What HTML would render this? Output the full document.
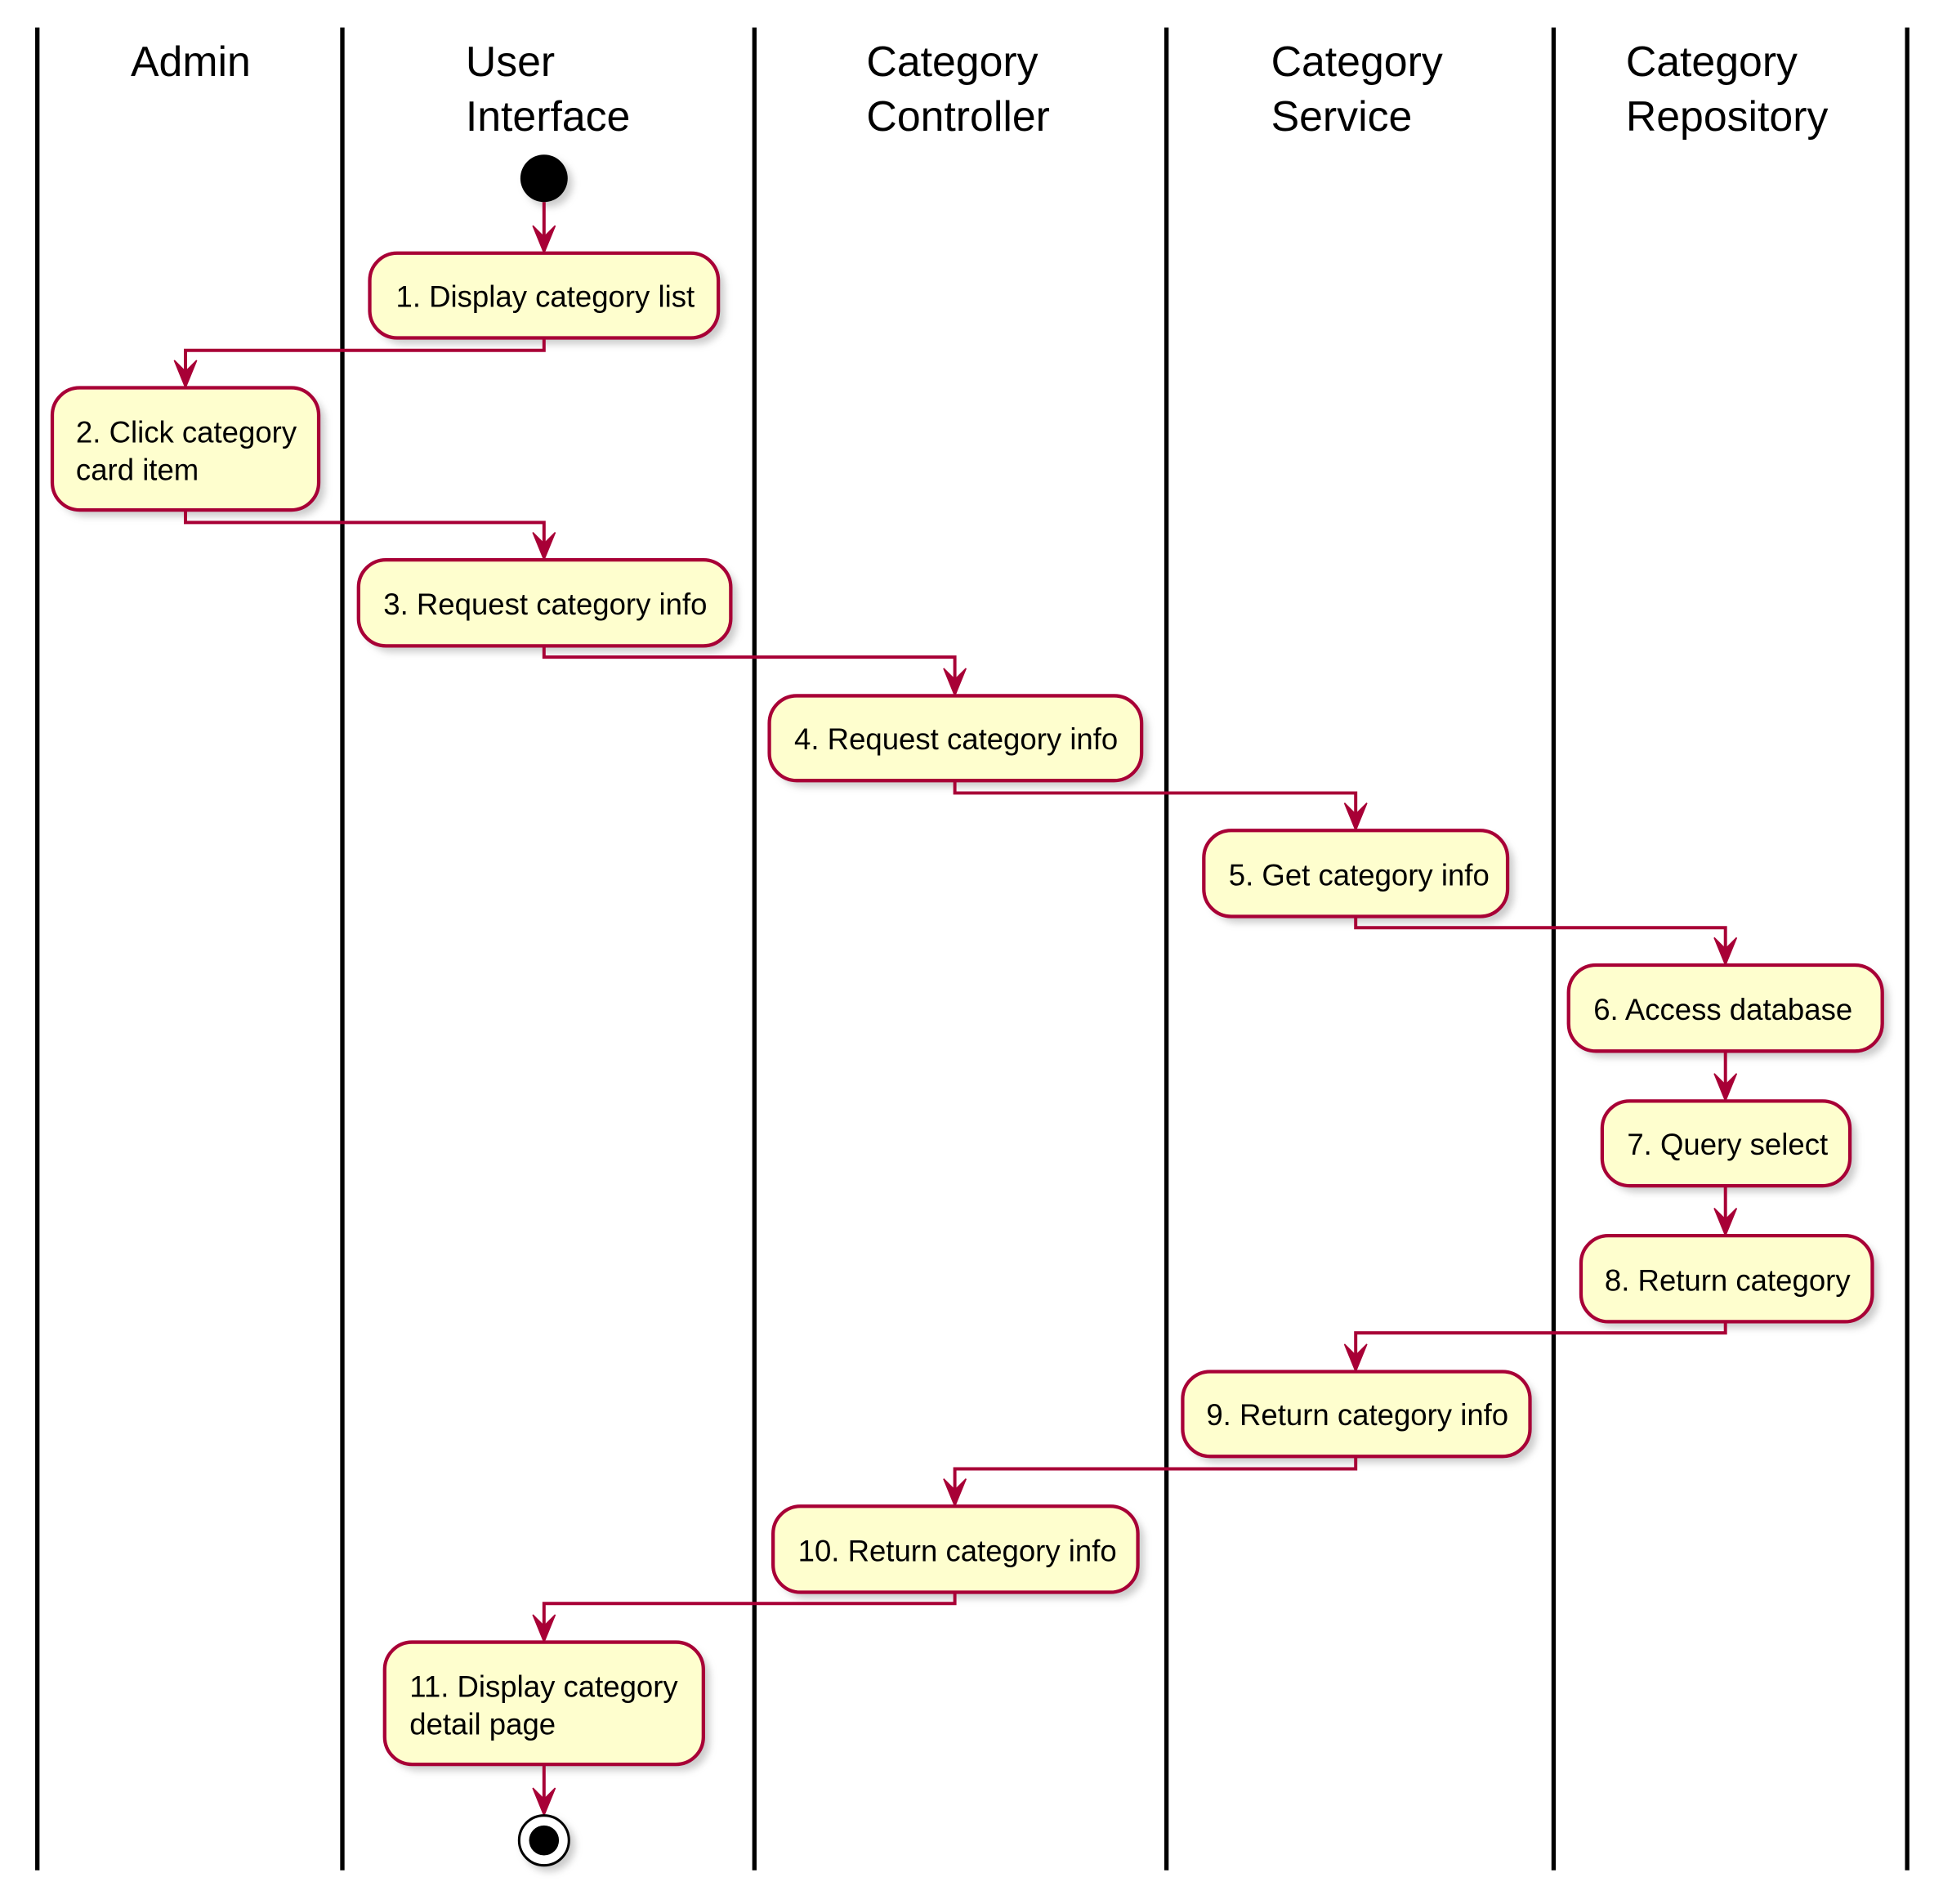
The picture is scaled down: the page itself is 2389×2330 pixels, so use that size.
<!DOCTYPE html>
<html><head><meta charset="utf-8"><style>
html,body{margin:0;padding:0;background:#fff;}
svg{display:block;}
text{font-family:"Liberation Sans",Arial,sans-serif;fill:#000;}
.h{font-size:34px;}
.t{font-size:24px;}
.n{fill:#FEFECE;stroke:#A80036;stroke-width:2.8;}
.s{fill:#999;opacity:.5;}
.c{fill:none;stroke:#A80036;stroke-width:2.6;}
.a{fill:#A80036;stroke:#A80036;stroke-width:1;}
.l{stroke:#000;stroke-width:3.5;}
</style></head><body>
<svg width="2389" height="2330" viewBox="0 0 1568 1527" preserveAspectRatio="none" xmlns="http://www.w3.org/2000/svg">
<defs><filter id="f"><feGaussianBlur stdDeviation="3"/></filter></defs>
<g class="l">
<line x1="30" y1="22" x2="30" y2="1500"/><line x1="275" y1="22" x2="275" y2="1500"/>
<line x1="606" y1="22" x2="606" y2="1500"/><line x1="937" y1="22" x2="937" y2="1500"/>
<line x1="1248" y1="22" x2="1248" y2="1500"/><line x1="1532" y1="22" x2="1532" y2="1500"/>
</g>
<text class="h" x="105" y="61">Admin</text>
<text class="h" x="374" y="61">User</text><text class="h" x="374" y="105">Interface</text>
<text class="h" x="696" y="61">Category</text><text class="h" x="696" y="105">Controller</text>
<text class="h" x="1021" y="61">Category</text><text class="h" x="1021" y="105">Service</text>
<text class="h" x="1306" y="61">Category</text><text class="h" x="1306" y="105">Repository</text>

<g filter="url(#f)" class="s">
<circle cx="441" cy="147" r="19"/>
<rect x="302" y="208" width="280" height="68" rx="22"/>
<rect x="47" y="316" width="214" height="98" rx="22"/>
<rect x="293" y="454" width="299" height="69" rx="22"/>
<rect x="623" y="563" width="299" height="68" rx="22"/>
<rect x="972" y="671" width="244" height="69" rx="22"/>
<rect x="1265" y="779" width="252" height="69" rx="22"/>
<rect x="1292" y="888" width="199" height="68" rx="22"/>
<rect x="1275" y="996" width="234" height="69" rx="22"/>
<rect x="955" y="1105" width="279" height="68" rx="22"/>
<rect x="626" y="1213" width="293" height="69" rx="22"/>
<rect x="314" y="1322" width="256" height="98" rx="22"/>
<circle cx="441" cy="1480" r="21"/>
</g>

<path class="c" d="M437 162 V201"/>
<path class="c" d="M437 271 V281 H149 V309"/>
<path class="c" d="M149 409 V419 H437 V447"/>
<path class="c" d="M437 518 V527 H767 V556"/>
<path class="c" d="M767 626 V636 H1089 V664"/>
<path class="c" d="M1089 735 V744 H1386 V772"/>
<path class="c" d="M1386 843 V881"/>
<path class="c" d="M1386 951 V989"/>
<path class="c" d="M1386 1060 V1069 H1089 V1098"/>
<path class="c" d="M1089 1168 V1178 H767 V1206"/>
<path class="c" d="M767 1277 V1286 H437 V1315"/>
<path class="c" d="M437 1415 V1454"/>
<g class="a">
<path d="M437 203 l-9 -22 l9 9 l9 -9 z"/>
<path d="M149 311 l-9 -22 l9 9 l9 -9 z"/>
<path d="M437 449 l-9 -22 l9 9 l9 -9 z"/>
<path d="M767 558 l-9 -22 l9 9 l9 -9 z"/>
<path d="M1089 666 l-9 -22 l9 9 l9 -9 z"/>
<path d="M1386 774 l-9 -22 l9 9 l9 -9 z"/>
<path d="M1386 883 l-9 -22 l9 9 l9 -9 z"/>
<path d="M1386 991 l-9 -22 l9 9 l9 -9 z"/>
<path d="M1089 1100 l-9 -22 l9 9 l9 -9 z"/>
<path d="M767 1208 l-9 -22 l9 9 l9 -9 z"/>
<path d="M437 1317 l-9 -22 l9 9 l9 -9 z"/>
<path d="M437 1456 l-9 -22 l9 9 l9 -9 z"/>
</g>

<circle cx="437" cy="143" r="19" fill="#000"/>
<circle cx="437" cy="1476" r="20" fill="#fff" stroke="#000" stroke-width="2"/>
<circle cx="437" cy="1476" r="12" fill="#000"/>

<rect class="n" x="297" y="203" width="280" height="68" rx="22"/>
<text class="t" x="318" y="246">1. Display category list</text>
<rect class="n" x="42" y="311" width="214" height="98" rx="22"/>
<text class="t" x="61" y="355">2. Click category</text><text class="t" x="61" y="385">card item</text>
<rect class="n" x="288" y="449" width="299" height="69" rx="22"/>
<text class="t" x="308" y="493">3. Request category info</text>
<rect class="n" x="618" y="558" width="299" height="68" rx="22"/>
<text class="t" x="638" y="601">4. Request category info</text>
<rect class="n" x="967" y="666" width="244" height="69" rx="22"/>
<text class="t" x="987" y="710">5. Get category info</text>
<rect class="n" x="1260" y="774" width="252" height="69" rx="22"/>
<text class="t" x="1280" y="818">6. Access database</text>
<rect class="n" x="1287" y="883" width="199" height="68" rx="22"/>
<text class="t" x="1307" y="926">7. Query select</text>
<rect class="n" x="1270" y="991" width="234" height="69" rx="22"/>
<text class="t" x="1289" y="1035">8. Return category</text>
<rect class="n" x="950" y="1100" width="279" height="68" rx="22"/>
<text class="t" x="969" y="1143">9. Return category info</text>
<rect class="n" x="621" y="1208" width="293" height="69" rx="22"/>
<text class="t" x="641" y="1252">10. Return category info</text>
<rect class="n" x="309" y="1317" width="256" height="98" rx="22"/>
<text class="t" x="329" y="1361">11. Display category</text><text class="t" x="329" y="1391">detail page</text>
</svg>
</body></html>
